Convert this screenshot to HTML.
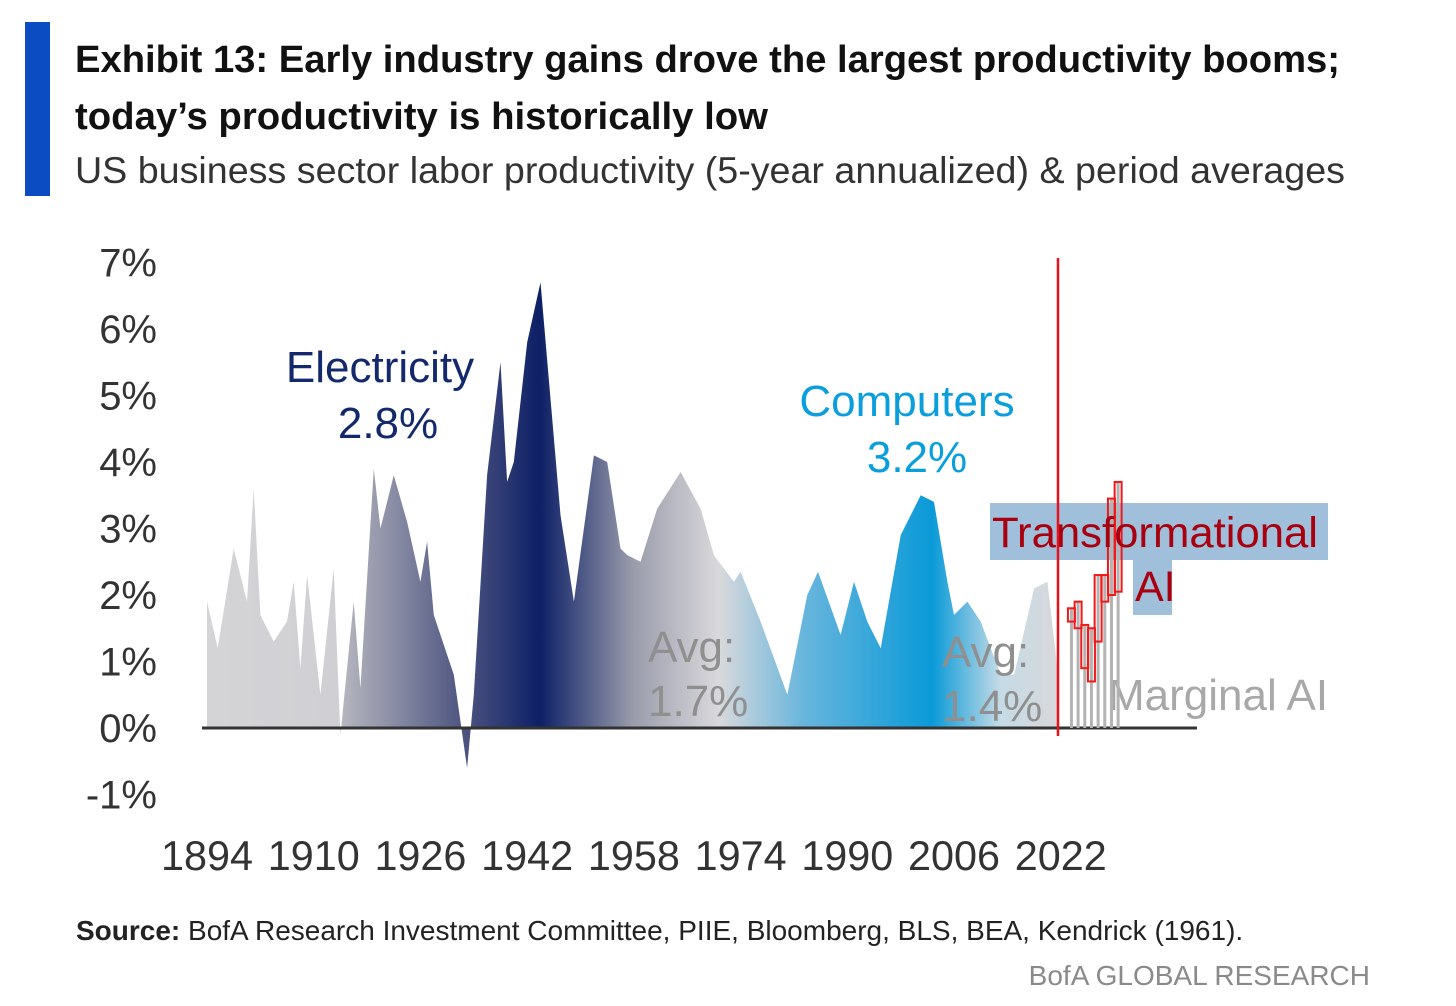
<!DOCTYPE html>
<html><head><meta charset="utf-8"><style>
html,body{margin:0;padding:0;background:#fff;}
svg{display:block;font-family:"Liberation Sans",sans-serif;}
</style></head><body>
<svg width="1456" height="1006" viewBox="0 0 1456 1006">
<defs>
<linearGradient id="g" gradientUnits="userSpaceOnUse" x1="207" y1="0" x2="1060" y2="0">
<stop offset="0" stop-color="#d4d4d7"/>
<stop offset="0.155" stop-color="#d0d0d4"/>
<stop offset="0.16" stop-color="#b4b5be"/>
<stop offset="0.30" stop-color="#4e5580"/>
<stop offset="0.39" stop-color="#0d1f66"/>
<stop offset="0.50" stop-color="#9a9cab"/>
<stop offset="0.60" stop-color="#d9d9dc"/>
<stop offset="0.70" stop-color="#67b5dc"/>
<stop offset="0.85" stop-color="#0a9ad8"/>
<stop offset="0.93" stop-color="#c5dbe6"/>
<stop offset="1" stop-color="#d8d8da"/>
</linearGradient>
</defs>
<rect x="25" y="22" width="25" height="174" fill="#0b4cc2"/>
<text x="75" y="72" font-size="38" font-weight="bold" fill="#111" textLength="1265" lengthAdjust="spacingAndGlyphs">Exhibit 13: Early industry gains drove the largest productivity booms;</text>
<text x="75" y="129" font-size="38" font-weight="bold" fill="#111" textLength="693" lengthAdjust="spacingAndGlyphs">today’s productivity is historically low</text>
<text x="75" y="183" font-size="37" fill="#333" textLength="1270" lengthAdjust="spacingAndGlyphs">US business sector labor productivity (5-year annualized) &amp; period averages</text>
<g id="yaxis"></g>
<g id="xaxis"></g>
<g id="plot"></g>
<text x="380" y="382" font-size="44" fill="#14296b" text-anchor="middle">Electricity</text>
<text x="388" y="438" font-size="44" fill="#14296b" text-anchor="middle">2.8%</text>
<text x="907" y="416" font-size="44" fill="#0a9fdc" text-anchor="middle">Computers</text>
<text x="917" y="472" font-size="44" fill="#0a9fdc" text-anchor="middle">3.2%</text>
<text x="648" y="662" font-size="44" fill="#8f8f8f">Avg:</text>
<text x="648" y="716" font-size="44" fill="#8f8f8f">1.7%</text>
<text x="942" y="667" font-size="44" fill="#8f8f8f">Avg:</text>
<text x="942" y="721" font-size="44" fill="#8f8f8f">1.4%</text>
<text x="1108" y="710" font-size="44" fill="#a8a8a8">Marginal AI</text>
<rect x="990" y="503" width="338" height="57" fill="rgba(80,138,188,0.55)"/>
<rect x="1133" y="560" width="39" height="55" fill="rgba(80,138,188,0.55)"/>
<g id="ai"></g>
<text x="992" y="547" font-size="43" fill="#a8000f" textLength="326" lengthAdjust="spacingAndGlyphs">Transformational</text>
<text x="1135" y="601" font-size="43" fill="#a8000f">AI</text>
<line x1="1058" y1="258" x2="1058" y2="736" stroke="#e8101a" stroke-width="2.5"/>
<text x="76" y="940" font-size="28" fill="#222"><tspan font-weight="bold">Source:</tspan> BofA Research Investment Committee, PIIE, Bloomberg, BLS, BEA, Kendrick (1961).</text>
<text x="1370" y="985" font-size="28" fill="#8a8a8a" text-anchor="end">BofA GLOBAL RESEARCH</text>
<script>
const years=[1894,1895.6,1898,1900,1901,1902,1904,1906,1907,1908,1909,1911,1913,1914,1916,1917,1919,1920,1922,1924,1926,1927,1928,1931,1933,1934,1936,1938,1939,1940,1942,1944,1947,1949,1952,1954,1956,1957,1959,1961.5,1965,1968,1970,1973,1974,1977,1981,1984,1985.6,1989,1991,1993,1995,1998,2001,2003,2005,2006,2008,2010,2013,2015,2018,2020,2021.5];
const values=[1.9,1.2,2.7,1.9,3.6,1.7,1.3,1.6,2.2,0.9,2.3,0.5,2.4,-0.1,1.9,0.6,3.9,3.0,3.8,3.1,2.2,2.8,1.7,0.8,-0.6,0.5,3.8,5.5,3.7,4.0,5.8,6.7,3.2,1.9,4.1,4.0,2.7,2.6,2.5,3.3,3.85,3.3,2.6,2.2,2.35,1.6,0.5,2.0,2.35,1.4,2.2,1.6,1.2,2.9,3.5,3.4,2.2,1.7,1.9,1.6,0.8,0.8,2.1,2.2,0.9];
const aiYears=[2023,2024,2025,2026,2027,2028,2029,2030];
const aiLow=[1.6,1.5,0.9,0.7,1.3,1.9,2.0,2.05];
const aiHigh=[1.8,1.9,1.55,1.5,2.3,2.3,3.45,3.7];
const yTicks=[-1,0,1,2,3,4,5,6,7];
const xTicks=[1894,1910,1926,1942,1958,1974,1990,2006,2022];
const NS='http://www.w3.org/2000/svg';
const X=y=>207+(y-1894)*6.67;
const Y=v=>728-v*66.5;
function mk(tag,parent,attrs){const e=document.createElementNS(NS,tag);for(const k in attrs)e.setAttribute(k,attrs[k]);parent.appendChild(e);return e;}
const ya=document.getElementById('yaxis');
yTicks.forEach(t=>{const e=mk('text',ya,{x:157,y:Y(t)+14,'font-size':40,fill:'#333','text-anchor':'end'});


e.textContent=t+'%';});
const xa=document.getElementById('xaxis');
xTicks.forEach(t=>{const e=mk('text',xa,{x:X(t),y:870,'font-size':42,fill:'#333','text-anchor':'middle',textLength:92,lengthAdjust:'spacingAndGlyphs'});


e.textContent=t;});
const plot=document.getElementById('plot');
let d='M'+X(years[0])+','+Y(0);
years.forEach((yr,i)=>{d+=' L'+X(yr).toFixed(1)+','+Y(values[i]).toFixed(1);});
d+=' L'+X(years[years.length-1]).toFixed(1)+','+Y(0)+' Z';
const area=mk('path',plot,{d:d,fill:'url(#g)'});


const axis=mk('line',plot,{x1:202,y1:Y(0),x2:1197,y2:Y(0),stroke:'#333','stroke-width':3});


const ai=document.getElementById('ai');
aiYears.forEach((yr,i)=>{const cx=X(yr)+4;
const b=mk('rect',ai,{x:cx-1.5,y:Y(aiHigh[i]),width:3,height:Y(0)-Y(aiHigh[i]),fill:'#b3b3b3'});


const r=mk('rect',ai,{x:cx-3.5,y:Y(aiHigh[i]),width:7,height:Y(aiLow[i])-Y(aiHigh[i]),fill:'none',stroke:'#f01818','stroke-width':2});

});
</script>
</svg>
</body></html>
